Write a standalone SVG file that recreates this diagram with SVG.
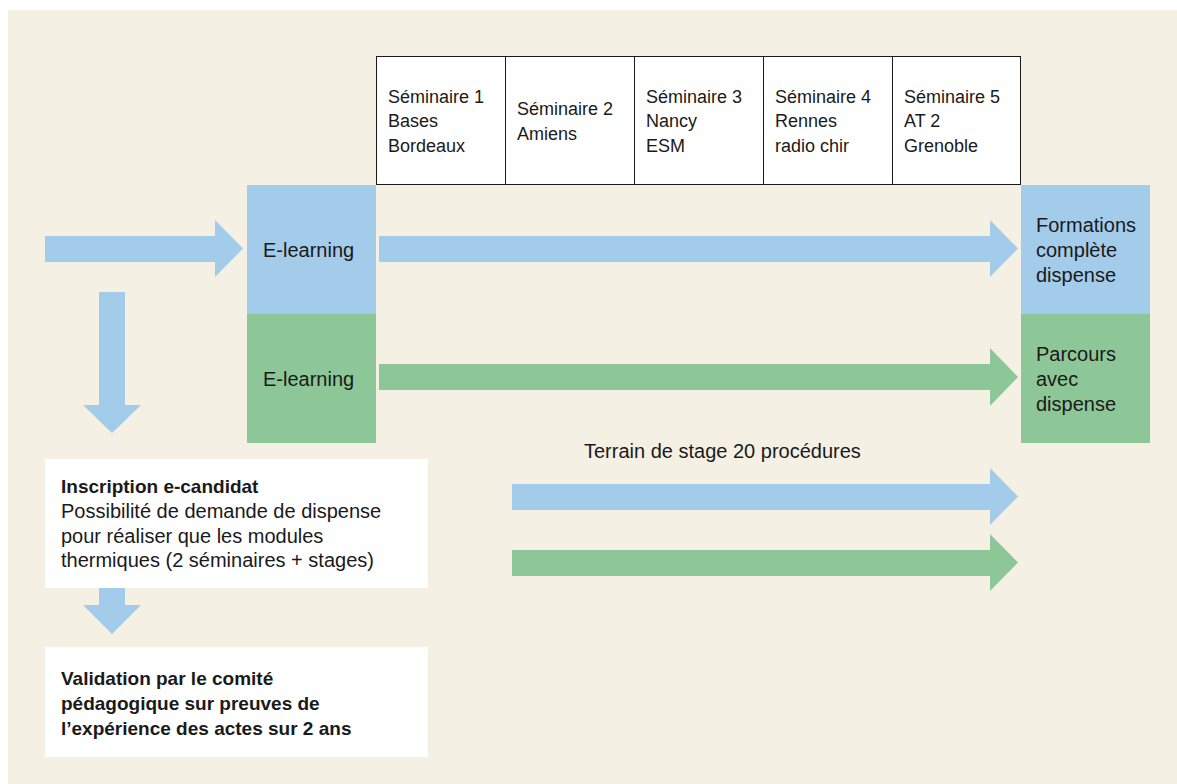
<svg xmlns="http://www.w3.org/2000/svg" width="1177" height="784" viewBox="0 0 1177 784">
<style>
.bg{fill:#F4F1E4}
.blue{fill:#A3CBEA}
.green{fill:#8DC797}
.white{fill:#FFFFFF}
.sem{fill:#FFFFFF;stroke:#1a1a1a;stroke-width:1}
.div{stroke:#1a1a1a;stroke-width:1}
.t{font-family:"Liberation Sans",Arial,sans-serif;fill:#1a1a1a}
.s18{font-size:18px}
.s20{font-size:20px}
.b19{font-size:19px;font-weight:bold}
</style>
<rect x="0" y="0" width="1177" height="784" fill="#FFFFFF"/>
<rect class="bg" x="8" y="10" width="1169" height="774"/>

<g id="seminaires">
  <rect class="sem" x="376.5" y="56.5" width="644" height="128"/>
  <line class="div" x1="505.5" y1="56.5" x2="505.5" y2="184.5"/>
  <line class="div" x1="634.5" y1="56.5" x2="634.5" y2="184.5"/>
  <line class="div" x1="763.5" y1="56.5" x2="763.5" y2="184.5"/>
  <line class="div" x1="892.5" y1="56.5" x2="892.5" y2="184.5"/>
  <text class="t s18"><tspan x="388" y="103">Séminaire 1</tspan><tspan x="388" y="127">Bases</tspan><tspan x="388" y="152">Bordeaux</tspan></text>
  <text class="t s18"><tspan x="517" y="115">Séminaire 2</tspan><tspan x="517" y="140">Amiens</tspan></text>
  <text class="t s18"><tspan x="646" y="103">Séminaire 3</tspan><tspan x="646" y="127">Nancy</tspan><tspan x="646" y="152">ESM</tspan></text>
  <text class="t s18"><tspan x="775" y="103">Séminaire 4</tspan><tspan x="775" y="127">Rennes</tspan><tspan x="775" y="152">radio chir</tspan></text>
  <text class="t s18"><tspan x="904" y="103">Séminaire 5</tspan><tspan x="904" y="127">AT 2</tspan><tspan x="904" y="152">Grenoble</tspan></text>
</g>

<g id="elearning-blue">
  <rect class="blue" x="247" y="185" width="129" height="129"/>
  <text class="t s20" x="263" y="257">E-learning</text>
</g>
<g id="elearning-green">
  <rect class="green" x="247" y="314" width="129" height="129"/>
  <text class="t s20" x="263" y="386">E-learning</text>
</g>

<g id="formations">
  <rect class="blue" x="1021" y="185" width="129" height="129"/>
  <text class="t s20"><tspan x="1036" y="232">Formations</tspan><tspan x="1036" y="257">complète</tspan><tspan x="1036" y="282">dispense</tspan></text>
</g>
<g id="parcours">
  <rect class="green" x="1021" y="314" width="129" height="129"/>
  <text class="t s20"><tspan x="1036" y="361">Parcours</tspan><tspan x="1036" y="386">avec</tspan><tspan x="1036" y="411">dispense</tspan></text>
</g>

<g id="inscription">
  <rect class="white" x="45" y="459" width="383" height="129"/>
  <text class="t b19" x="61" y="493">Inscription e-candidat</text>
  <text class="t s20"><tspan x="61" y="518">Possibilité de demande de dispense</tspan><tspan x="61" y="543">pour réaliser que les modules</tspan><tspan x="61" y="567">thermiques (2 séminaires + stages)</tspan></text>
</g>

<g id="validation">
  <rect class="white" x="45" y="647" width="383" height="110"/>
  <text class="t b19"><tspan x="61" y="685">Validation par le comité</tspan><tspan x="61" y="710">pédagogique sur preuves de</tspan><tspan x="61" y="735">l’expérience des actes sur 2 ans</tspan></text>
</g>

<g id="terrain-label">
  <text class="t s20" x="584" y="458">Terrain de stage 20 procédures</text>
</g>

<g id="connectors">
  <polygon class="blue" points="45,236 215,236 215,220 243,248.5 215,277 215,262 45,262"/>
  <polygon class="blue" points="379,236 990,236 990,220 1018,248.5 990,277 990,262 379,262"/>
  <polygon class="green" points="379,364 990,364 990,348 1018,377 990,406 990,390 379,390"/>
  <polygon class="blue" points="512,484 990,484 990,468 1018,496.5 990,525 990,510 512,510"/>
  <polygon class="green" points="512,550 990,550 990,534 1018,562.5 990,591 990,576 512,576"/>
  <polygon class="blue" points="99,292 125,292 125,405 141,405 112,433 83,405 99,405"/>
  <polygon class="blue" points="99,588 125,588 125,605 141,605 112,634 83,605 99,605"/>
</g>
</svg>
